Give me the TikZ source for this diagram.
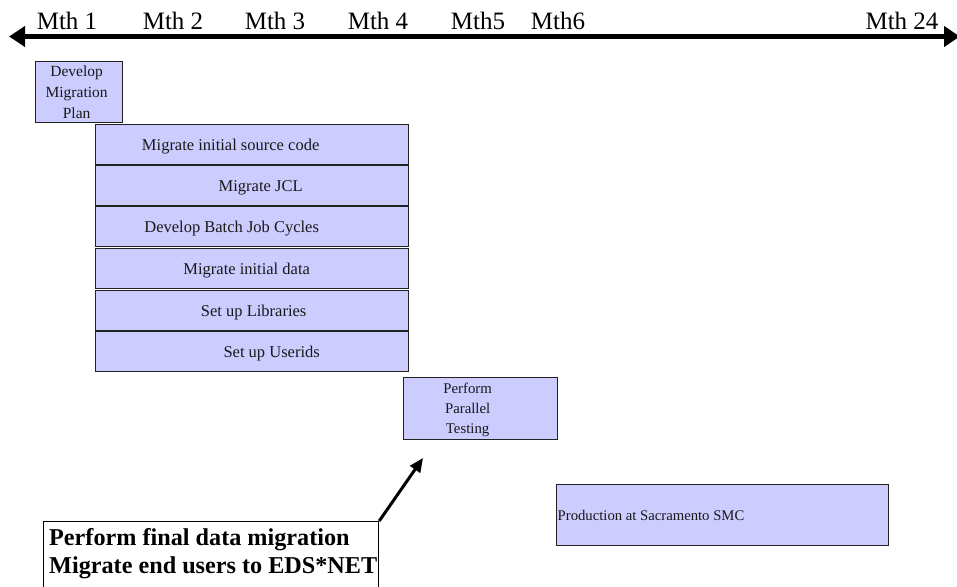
\documentclass[tikz,border=0pt]{standalone}
\usepackage{fontspec}
\setmainfont{Liberation Serif}
\usetikzlibrary{arrows.meta,calc}
\definecolor{boxfill}{HTML}{CCCCFF}
\definecolor{boxline}{HTML}{222222}
\tikzset{
  taskbox/.style={draw=boxline, line width=1.3pt, fill=boxfill, inner sep=0pt, anchor=north west},
  tasktext/.style={font=\fontsize{16.5}{20.5}\selectfont, align=center, inner sep=0pt, text=black!90},
  mthlabel/.style={font=\fontsize{25}{28}\selectfont, anchor=base, inner sep=0pt},
  timeline/.style={line width=4.5pt, {Triangle[length=16pt,width=20pt]}-{Triangle[length=16pt,width=20pt]}},
  pointer/.style={line width=3pt, -{Triangle[length=14pt,width=12pt]}},
  notetext/.style={font=\bfseries\fontsize{24.2}{28}\selectfont, anchor=base west, inner sep=0pt}
}
\begin{document}
\begin{tikzpicture}[x=1pt,y=-1pt]
\useasboundingbox (0,0) rectangle (957,586);
\clip (0,0) rectangle (957,586);
% timeline
\coordinate (tl) at (9,36.5);
\coordinate (tr) at (960,36.5);
\draw[timeline] (tl) -- (tr);
\node[mthlabel] (m1) at (67,30) {Mth 1};
\node[mthlabel] (m2) at (173,30) {Mth 2};
\node[mthlabel] (m3) at (275,30) {Mth 3};
\node[mthlabel] (m4) at (378,30) {Mth 4};
\node[mthlabel] (m5) at (478,30) {Mth5};
\node[mthlabel] (m6) at (558,30) {Mth6};
\node[mthlabel] (m24) at (902,30) {Mth 24};
% develop migration plan
\node[taskbox, minimum width=87, minimum height=61] (plan) at (35,61) {};
\node[tasktext, font=\fontsize{15.5}{21}\selectfont] (plantext) at ($(plan.center)+(-2.5,0.5)$) {Develop\\Migration\\Plan};
% stack
\node[taskbox, minimum width=313, minimum height=40] (b1) at (95,124) {};
\node[taskbox, minimum width=313, minimum height=40] (b2) at (95,165) {};
\node[taskbox, minimum width=313, minimum height=40] (b3) at (95,206) {};
\node[taskbox, minimum width=313, minimum height=40] (b4) at (95,248) {};
\node[taskbox, minimum width=313, minimum height=40] (b5) at (95,290) {};
\node[taskbox, minimum width=313, minimum height=40] (b6) at (95,331) {};
\node[tasktext] (t1) at ($(b1.center)+(-21.5,2)$) {Migrate initial source code};
\node[tasktext] (t2) at ($(b2.center)+(8.5,2)$) {Migrate JCL};
\node[tasktext] (t3) at ($(b3.center)+(-20.5,2)$) {Develop Batch Job Cycles};
\node[tasktext] (t4) at ($(b4.center)+(-5.5,2)$) {Migrate initial data};
\node[tasktext] (t5) at ($(b5.center)+(1.5,2)$) {Set up Libraries};
\node[tasktext] (t6) at ($(b6.center)+(19.5,2)$) {Set up Userids};
% parallel testing
\node[taskbox, minimum width=154, minimum height=62] (test) at (403,377) {};
\node[tasktext, font=\fontsize{14.8}{20}\selectfont] (testtext) at ($(test.center)+(-13,1)$) {Perform\\Parallel\\Testing};
% production
\node[taskbox, minimum width=332, minimum height=61] (prod) at (556,484) {};
\node[tasktext, anchor=west, font=\fontsize{14.7}{18}\selectfont] (prodtext) at ($(prod.west)+(1.5,0.5)$) {Production at Sacramento SMC};
% final note
\node[draw=black, line width=1.2pt, fill=white, anchor=north west, minimum width=335, minimum height=90, inner sep=0pt] (final) at (43,521) {};
\node[notetext] (f1) at (49,545) {Perform final data migration};
\node[notetext] (f2) at (49,573) {Migrate end users to EDS*NET};
\coordinate (tip) at (423,458);
\draw[pointer] (final.north east) -- (tip);
\end{tikzpicture}
\end{document}
